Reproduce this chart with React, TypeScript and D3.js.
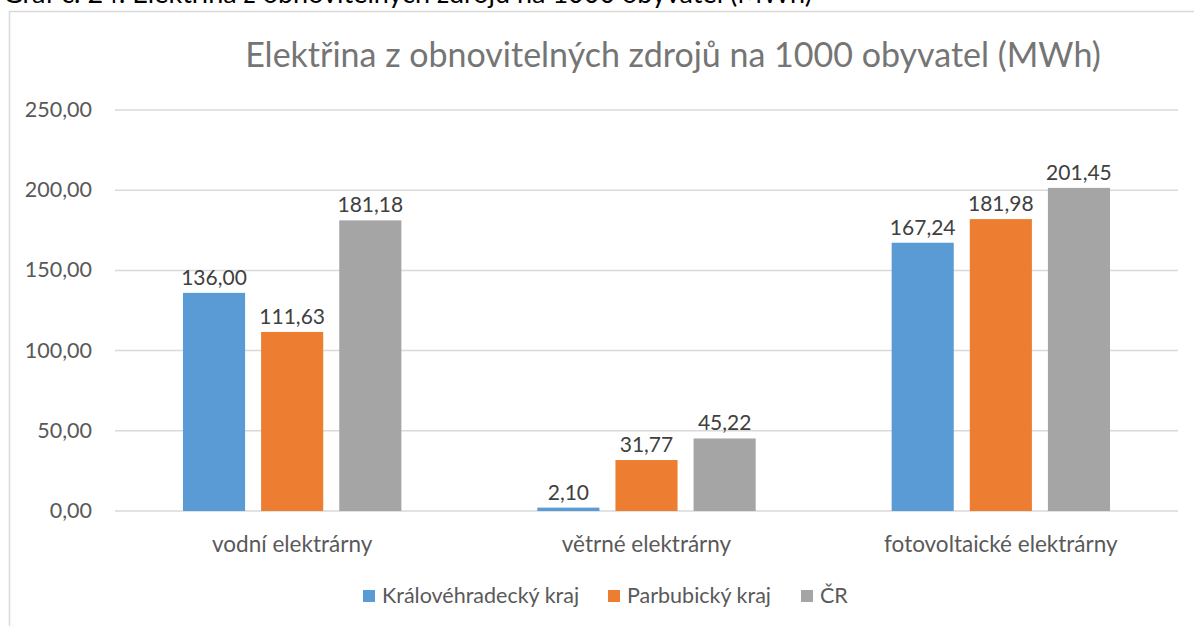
import * as d3 from 'd3';

const categories = ['vodní elektrárny', 'větrné elektrárny', 'fotovoltaické elektrárny'];
const seriesNames = ['Královéhradecký kraj', 'Parbubický kraj', 'ČR'];
const hradecValues = [136.0, 2.1, 167.24];
const pardubiceValues = [111.63, 31.77, 181.98];
const crValues = [181.18, 45.22, 201.45];
const yTicks = [0, 50, 100, 150, 200, 250];
const colors = ['#5B9BD5', '#ED7D31', '#A5A5A5'];

const seriesValues = [hradecValues, pardubiceValues, crValues];

const W = 1194;
const H = 626;
const left = 115;
const right = 1178;
const top = 110;
const bottom = 511;
const font = 'Lato, "Open Sans", sans-serif';

const fmt = (v: number) => v.toFixed(2).replace('.', ',');

function App() {
    const x0 = d3.scaleBand<string>().domain(categories).range([left, right]).padding(0);
    const x1 = d3
        .scaleBand<string>()
        .domain(seriesNames)
        .range([0, x0.bandwidth()])
        .paddingInner(0.205)
        .paddingOuter(0.87);
    const y = d3.scaleLinear().domain([0, 250]).range([bottom, top]);

    const legendX = [363, 608, 801];

    return (
        <svg width={W} height={H} style={{ position: 'absolute', left: 0, top: 0, background: '#fff' }}>
            <rect x={0} y={0} width={W} height={H} fill='#fff' />
            {/* caption above the chart, cut by the page edge */}
            <text x={3} y={3} fontFamily={font} fontSize={27} fill='#000'>
                Graf č. 24: Elektřina z obnovitelných zdrojů na 1000 obyvatel (MWh)
            </text>
            <rect x={9.5} y={11.5} width={W + 10} height={H + 10} fill='none' stroke='#d9d9d9' strokeWidth={1.5} />

            <text x={673} y={67} textAnchor='middle' fontFamily={font} fontSize={34} fill='#757575'>
                Elektřina z obnovitelných zdrojů na 1000 obyvatel (MWh)
            </text>

            {yTicks.map((t) => (
                <g key={t}>
                    <line x1={left} x2={right} y1={y(t)} y2={y(t)} stroke='#d9d9d9' strokeWidth={1.5} />
                    <text x={92} y={y(t) + 7} textAnchor='end' fontFamily={font} fontSize={21.5} fill='#595959'>
                        {fmt(t)}
                    </text>
                </g>
            ))}

            {categories.map((c, ci) => (
                <g key={c} transform={`translate(${x0(c)},0)`}>
                    {seriesNames.map((s, si) => {
                        const v = seriesValues[si][ci];
                        const bx = x1(s) as number;
                        return (
                            <g key={s}>
                                <rect x={bx} y={y(v)} width={x1.bandwidth()} height={bottom - y(v)} fill={colors[si]} />
                                <text
                                    x={bx + x1.bandwidth() / 2}
                                    y={y(v) - 8}
                                    textAnchor='middle'
                                    fontFamily={font}
                                    fontSize={21}
                                    fill='#404040'
                                >
                                    {fmt(v)}
                                </text>
                            </g>
                        );
                    })}
                    <text
                        x={x0.bandwidth() / 2}
                        y={552}
                        textAnchor='middle'
                        fontFamily={font}
                        fontSize={22.5}
                        fill='#595959'
                    >
                        {c}
                    </text>
                </g>
            ))}

            {seriesNames.map((s, si) => (
                <g key={s}>
                    <rect x={legendX[si]} y={590} width={12} height={12} fill={colors[si]} />
                    <text x={legendX[si] + 19} y={603} fontFamily={font} fontSize={21.5} fill='#595959'>
                        {s}
                    </text>
                </g>
            ))}
        </svg>
    );
}

export default App;
